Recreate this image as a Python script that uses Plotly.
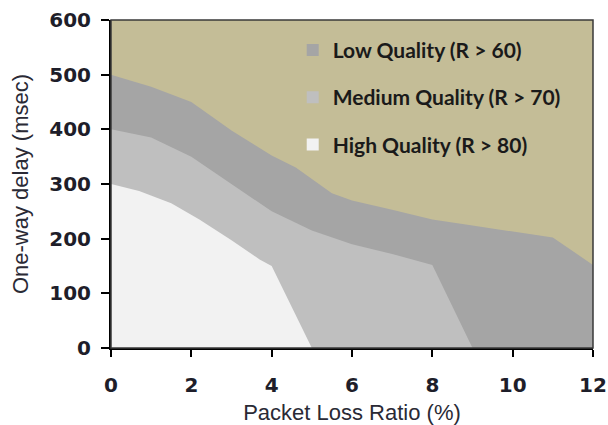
import plotly.graph_objects as go

# Region boundaries (one-way delay in msec vs packet loss ratio in %)
low_x = [0, 1, 2, 3, 4, 4.6, 5.5, 6, 7, 8, 9, 10, 11, 12]
low_y = [500, 478, 450, 398, 352, 330, 283, 270, 253, 235, 224, 213, 202, 152]

med_x = [0, 1, 2, 3, 4, 5, 6, 7, 8, 9]
med_y = [400, 385, 350, 300, 250, 215, 190, 172, 152, 0]

high_x = [0, 0.7, 1.5, 2.2, 3, 3.7, 4, 5]
high_y = [300, 287, 265, 235, 197, 162, 150, 0]

series_names = ["Low Quality (R > 60)", "Medium Quality (R > 70)", "High Quality (R > 80)"]
series_colors = ["#A5A5A5", "#BFBFBF", "#F2F2F2"]
bg_color = "#C4BD97"

x_ticks = [0, 2, 4, 6, 8, 10, 12]
y_ticks = [0, 100, 200, 300, 400, 500, 600]

fig = go.Figure()

for xs, ys, col in [(low_x, low_y, series_colors[0]),
                    (med_x, med_y, series_colors[1]),
                    (high_x, high_y, series_colors[2])]:
    fig.add_trace(go.Scatter(x=xs, y=ys, mode="lines", fill="tozeroy",
                             fillcolor=col, line=dict(width=0, color=col),
                             showlegend=False, hoverinfo="skip"))

for i, (name, col) in enumerate(zip(series_names, series_colors)):
    fig.add_trace(go.Scatter(x=[None], y=[None], mode="markers", name=name,
                             legendgroup=f"g{i}",
                             marker=dict(symbol="square", size=12, color=col,
                                         line=dict(width=0))))

tick_font = dict(family="DejaVu Sans", size=20, color="#1e1e2a", weight="bold")
title_font = dict(family="Liberation Sans, Arial", size=22, color="#2a2a35")

fig.update_layout(
    width=608, height=425,
    margin=dict(l=111, r=15, t=20, b=77),
    paper_bgcolor="white",
    plot_bgcolor=bg_color,
    showlegend=True,
    legend=dict(x=0.377, y=0.97, xanchor="left", yanchor="top",
                bgcolor="rgba(0,0,0,0)", traceorder="grouped", tracegroupgap=17,
                font=dict(family="Lato", size=21, color="#1a1a1a", weight="bold")),
    xaxis=dict(range=[0, 12], tickvals=x_ticks, ticks="outside", ticklen=7,
               tickwidth=2, tickcolor="black", showline=True, linecolor="black",
               linewidth=2, showgrid=False, zeroline=False, tickfont=tick_font,
               ticklabelstandoff=11, automargin=False,
               title=dict(text="Packet Loss Ratio (%)", font=title_font, standoff=9)),
    yaxis=dict(range=[0, 600], tickvals=y_ticks, ticks="outside", ticklen=8,
               tickwidth=2, tickcolor="black", showline=True, linecolor="black",
               linewidth=2, showgrid=False, zeroline=False, tickfont=tick_font,
               ticklabelstandoff=6, automargin=False,
               title=dict(text="One-way delay (msec)", font=title_font, standoff=15)),
    shapes=[dict(type="rect", xref="paper", yref="paper", x0=0, y0=0, x1=1, y1=1,
                 line=dict(color="#3a3a3a", width=1.5), layer="above")],
)

fig.write_html("out.html",
               config={"displayModeBar": False},
               post_script="document.body.style.margin='0';"
                           "document.body.style.overflow='hidden';")
